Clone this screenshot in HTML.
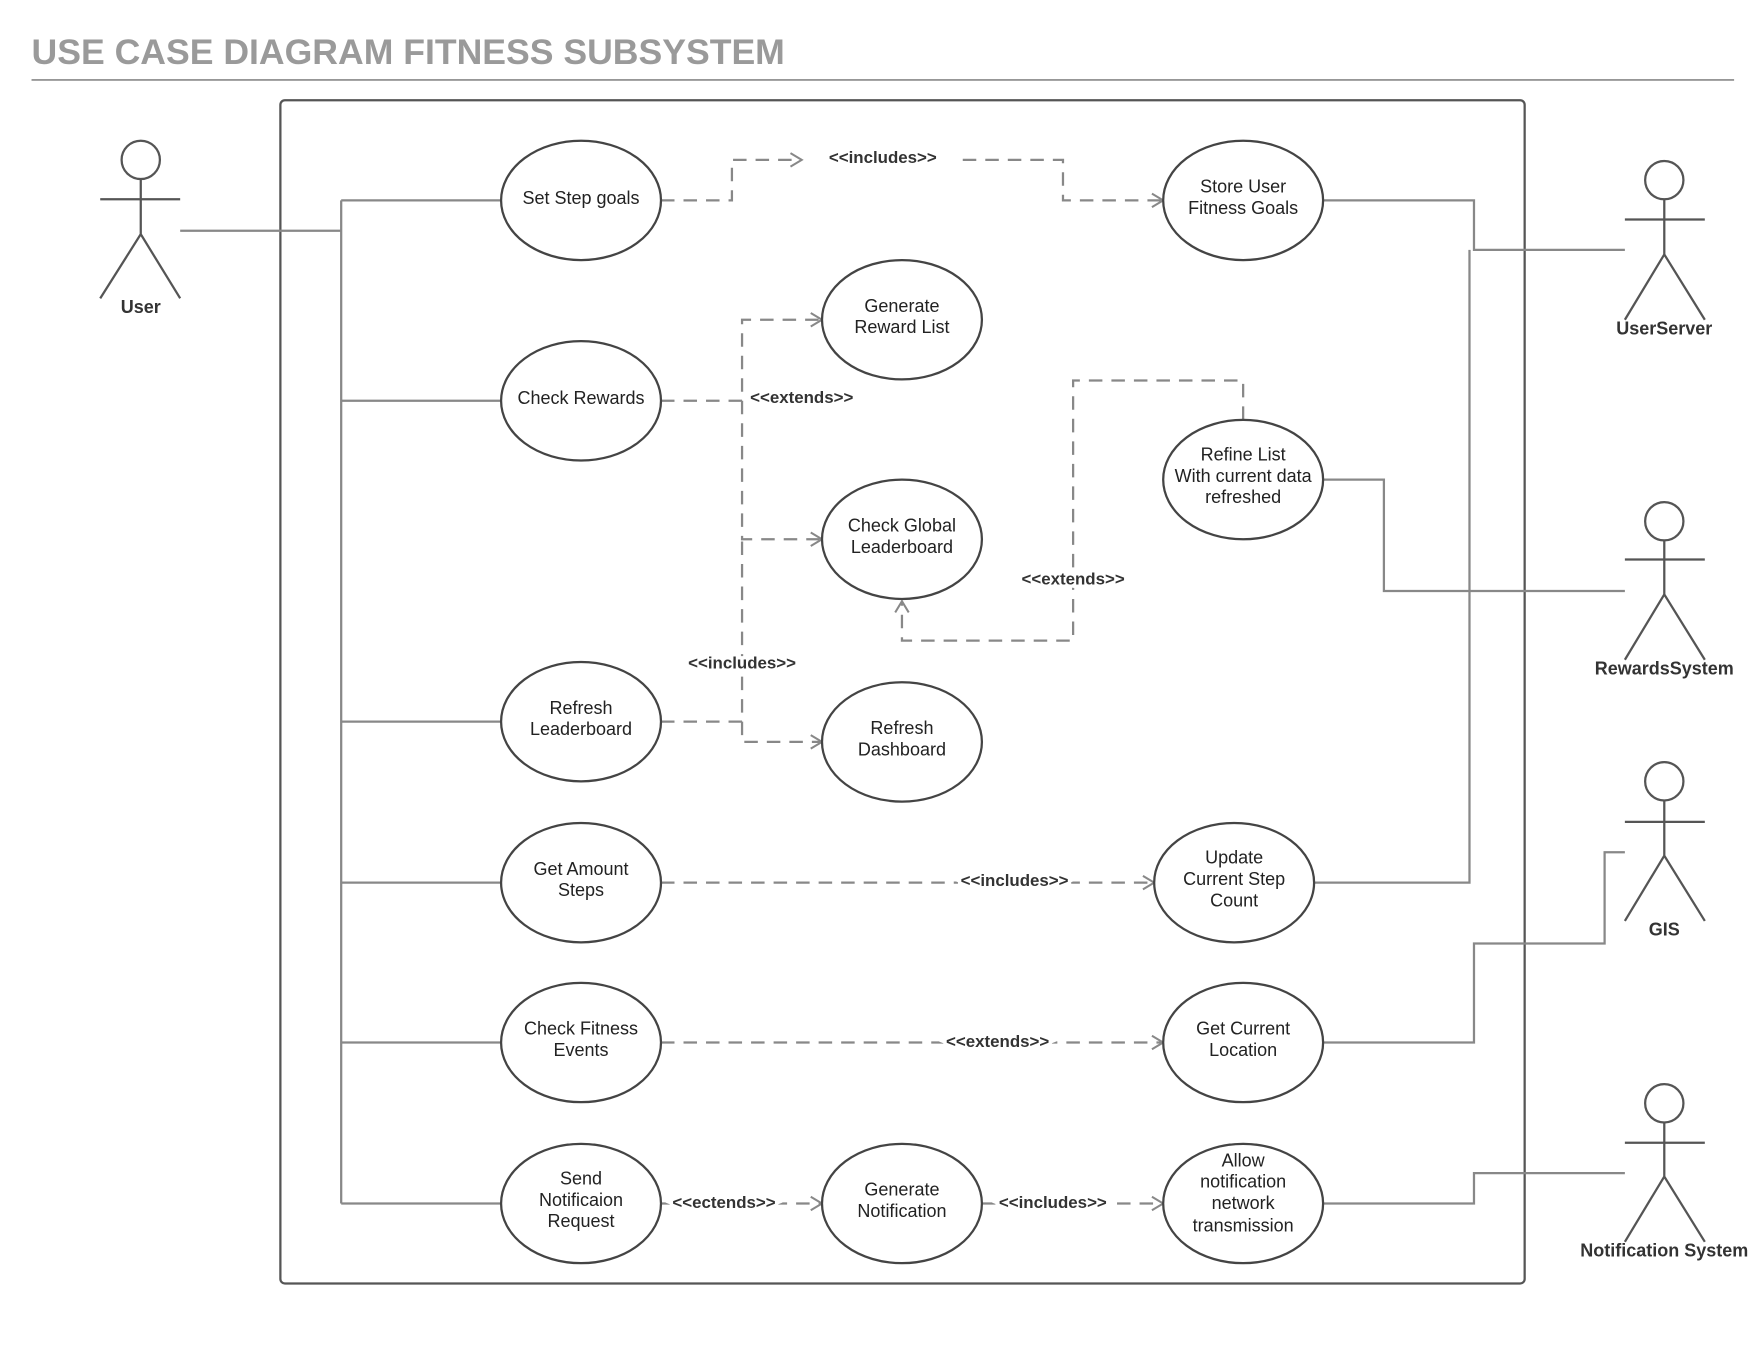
<!DOCTYPE html>
<html><head><meta charset="utf-8"><style>
html,body{margin:0;padding:0;background:#fff;}
svg{display:block}
text{font-family:"Liberation Sans",Arial,sans-serif;}
</style></head><body>
<svg width="1760" height="1360" viewBox="0 0 1563 1208" preserveAspectRatio="none" xmlns="http://www.w3.org/2000/svg">
<defs>
<marker id="a" markerWidth="14" markerHeight="14" refX="12" refY="7" orient="auto" markerUnits="userSpaceOnUse">
<path d="M2,1 L12,7 L2,13" fill="none" stroke="#888" stroke-width="1.8"/></marker>
</defs>
<text x="28" y="57" font-size="31" font-weight="bold" fill="#9a9a9a" textLength="669" lengthAdjust="spacingAndGlyphs">USE CASE DIAGRAM FITNESS SUBSYSTEM</text>
<line x1="28" y1="71" x2="1540" y2="71" stroke="#888" stroke-width="1.5"/>
<rect x="249" y="89" width="1105" height="1051" rx="4" fill="none" stroke="#555" stroke-width="2"/>

<g fill="none" stroke="#888" stroke-width="2">
<path d="M160,205 H303 M303,178 V1069 M303,178 H445 M303,356 H445 M303,641 H445 M303,784 H445 M303,926 H445 M303,1069 H445"/>
<path d="M1175,178 H1309 V222 H1443 M1167,784 H1305 V222"/>
<path d="M1175,426 H1229 V525 H1443"/>
<path d="M1175,926 H1309 V838 H1425 V757 H1443"/>
<path d="M1175,1069 H1309 V1042 H1443"/>
</g>
<g fill="none" stroke="#888" stroke-width="2" stroke-dasharray="12,8">
<path d="M587,178 H650 V142 H712" marker-end="url(#a)"/>
<path d="M855,142 H944 V178 H1033" marker-end="url(#a)"/>
<path d="M587,356 H659 V284 H730" marker-end="url(#a)"/>
<path d="M659,356 V479 H730" marker-end="url(#a)"/>
<path d="M587,641 H659 V479" />
<path d="M659,641 V659 H730" marker-end="url(#a)"/>
<path d="M1104,373 V338 H953 V569 H801 V534" marker-end="url(#a)"/>
<path d="M587,784 H1025" marker-end="url(#a)"/>
<path d="M587,926 H1033" marker-end="url(#a)"/>
<path d="M587,1069 H730" marker-end="url(#a)"/>
<path d="M872,1069 H1033" marker-end="url(#a)"/>
</g>
<g font-size="15" font-weight="bold" fill="#333" text-anchor="middle" stroke="#fff" stroke-width="6" paint-order="stroke">
<text x="784" y="145">&lt;&lt;includes&gt;&gt;</text>
<text x="712" y="358">&lt;&lt;extends&gt;&gt;</text>
<text x="659" y="594">&lt;&lt;includes&gt;&gt;</text>
<text x="953" y="519">&lt;&lt;extends&gt;&gt;</text>
<text x="901" y="787">&lt;&lt;includes&gt;&gt;</text>
<text x="886" y="930">&lt;&lt;extends&gt;&gt;</text>
<text x="643" y="1073">&lt;&lt;ectends&gt;&gt;</text>
<text x="935" y="1073">&lt;&lt;includes&gt;&gt;</text>
</g>

<g fill="#fff" stroke="#444" stroke-width="2">
<ellipse cx="516" cy="178" rx="71" ry="53"/>
<ellipse cx="516" cy="356" rx="71" ry="53"/>
<ellipse cx="516" cy="641" rx="71" ry="53"/>
<ellipse cx="516" cy="784" rx="71" ry="53"/>
<ellipse cx="516" cy="926" rx="71" ry="53"/>
<ellipse cx="516" cy="1069" rx="71" ry="53"/>
<ellipse cx="801" cy="284" rx="71" ry="53"/>
<ellipse cx="801" cy="479" rx="71" ry="53"/>
<ellipse cx="801" cy="659" rx="71" ry="53"/>
<ellipse cx="801" cy="1069" rx="71" ry="53"/>
<ellipse cx="1104" cy="178" rx="71" ry="53"/>
<ellipse cx="1104" cy="426" rx="71" ry="53"/>
<ellipse cx="1096" cy="784" rx="71" ry="53"/>
<ellipse cx="1104" cy="926" rx="71" ry="53"/>
<ellipse cx="1104" cy="1069" rx="71" ry="53"/>
</g>
<g font-size="16" fill="#222" text-anchor="middle">
<text x="516" y="181">Set Step goals</text>
<text x="516" y="359">Check Rewards</text>
<text x="516" y="634">Refresh</text><text x="516" y="653">Leaderboard</text>
<text x="516" y="777">Get Amount</text><text x="516" y="796">Steps</text>
<text x="516" y="919">Check Fitness</text><text x="516" y="938">Events</text>
<text x="516" y="1052">Send</text><text x="516" y="1071">Notificaion</text><text x="516" y="1090">Request</text>
<text x="801" y="277">Generate</text><text x="801" y="296">Reward List</text>
<text x="801" y="472">Check Global</text><text x="801" y="491">Leaderboard</text>
<text x="801" y="652">Refresh</text><text x="801" y="671">Dashboard</text>
<text x="801" y="1062">Generate</text><text x="801" y="1081">Notification</text>
<text x="1104" y="171">Store User</text><text x="1104" y="190">Fitness Goals</text>
<text x="1104" y="409">Refine List</text><text x="1104" y="428">With current data</text><text x="1104" y="447">refreshed</text>
<text x="1096" y="767">Update</text><text x="1096" y="786">Current Step</text><text x="1096" y="805">Count</text>
<text x="1104" y="919">Get Current</text><text x="1104" y="938">Location</text>
<text x="1104" y="1036">Allow</text><text x="1104" y="1055">notification</text><text x="1104" y="1074">network</text><text x="1104" y="1094">transmission</text>
</g>

<g fill="#fff" stroke="#555" stroke-width="2">
<circle cx="125" cy="142" r="17"/><path d="M125,159 V208 M89,177 H160 M89,265 L125,208 L160,265" fill="none"/>
<circle cx="1478" cy="160" r="17"/><path d="M1478,177 V226 M1443,195 H1514 M1443,284 L1478,226 L1514,284" fill="none"/>
<circle cx="1478" cy="463" r="17"/><path d="M1478,480 V528 M1443,497 H1514 M1443,586 L1478,528 L1514,586" fill="none"/>
<circle cx="1478" cy="694" r="17"/><path d="M1478,711 V760 M1443,730 H1514 M1443,818 L1478,760 L1514,818" fill="none"/>
<circle cx="1478" cy="980" r="17"/><path d="M1478,997 V1045 M1443,1015 H1514 M1443,1103 L1478,1045 L1514,1103" fill="none"/>
</g>
<g font-size="16" font-weight="bold" fill="#333" text-anchor="middle">
<text x="125" y="278">User</text>
<text x="1478" y="297">UserServer</text>
<text x="1478" y="599">RewardsSystem</text>
<text x="1478" y="831">GIS</text>
<text x="1478" y="1116">Notification System</text>
</g>
</svg>
</body></html>
